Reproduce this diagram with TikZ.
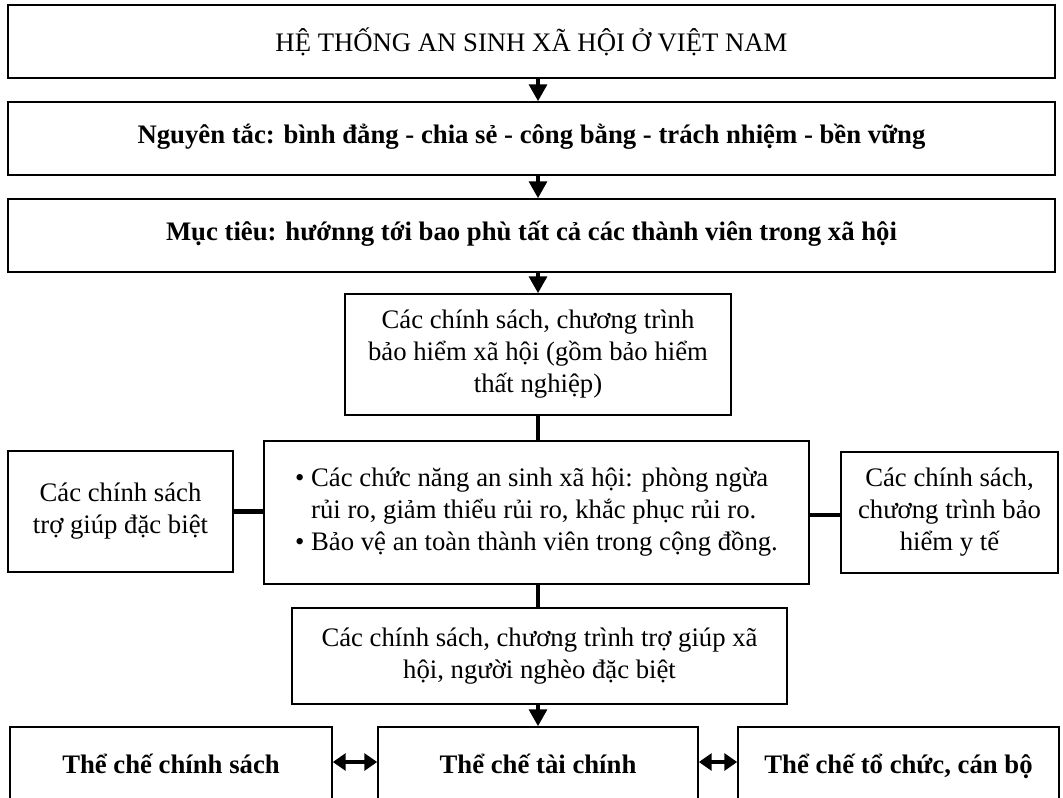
\documentclass[tikz,border=0pt]{standalone}
\usepackage{fontspec}
\setmainfont{Liberation Serif}
\usetikzlibrary{arrows.meta}
\tikzset{
  box/.style={draw, line width=1.1pt, align=center, inner sep=0pt},
  boldbox/.style={box, font=\fontsize{19}{22.8}\selectfont\bfseries, text height=2.2ex, text depth=0.6ex},
  arr/.style={line width=2.8pt, -{Triangle[width=0.44cm,length=0.42cm]}},
  darr/.style={line width=2.8pt, {Triangle[width=0.42cm,length=0.32cm]}-{Triangle[width=0.42cm,length=0.32cm]}},
  link/.style={line width=3pt}
}
\begin{document}
\begin{tikzpicture}[x=0.025cm, y=-0.025cm, font=\fontsize{19}{22.8}\selectfont]
        \useasboundingbox (0,0) rectangle (1063,797);

        % Draw top boxes
        \node[box, minimum width=26.175cm, minimum height=1.825cm] (sys) at (531.5,41.5) {HỆ THỐNG AN SINH XÃ HỘI Ở VIỆT NAM};
        \node[boldbox, minimum width=26.175cm, minimum height=1.825cm] (nt) at (531.5,138.5) {Nguyên tắc: bình đẳng - chia sẻ - công bằng - trách nhiệm - bền vững};
        \node[boldbox, minimum width=26.175cm, minimum height=1.825cm] (mt) at (531.5,235.5) {Mục tiêu: hướnng tới bao phù tất cả các thành viên trong xã hội};

        % Draw middle boxes
        \node[box, minimum width=9.65cm, minimum height=3.025cm] (bhxh) at (538,354.5) {Các chính sách, chương trình\\bảo hiểm xã hội (gồm bảo hiểm\\thất nghiệp)};
        \node[box, minimum width=13.625cm, minimum height=3.575cm, align=left] (cn) at (536.5,512.5)
            {\textbullet~Các chức năng an sinh xã hội: phòng ngừa\\\phantom{\textbullet~}rủi ro, giảm thiểu rủi ro, khắc phục rủi ro.\\\textbullet~Bảo vệ an toàn thành viên trong cộng đồng.};
        \node[box, minimum width=5.625cm, minimum height=3.025cm] (tgdb) at (120.5,511.5) {Các chính sách\\trợ giúp đặc biệt};
        \node[box, minimum width=5.425cm, minimum height=3.025cm] (bhyt) at (949.5,512.5) {Các chính sách,\\chương trình bảo\\hiểm y tế};
        \node[box, minimum width=12.375cm, minimum height=2.4cm] (tgxh) at (539.5,656) {Các chính sách, chương trình trợ giúp xã\\hội, người nghèo đặc biệt};

        % Draw bottom row
        \node[boldbox, minimum width=8.05cm, minimum height=2.05cm] (tccs) at (171,768) {Thể chế chính sách};
        \node[boldbox, minimum width=8cm, minimum height=2.05cm] (tctc) at (538,768) {Thể chế tài chính};
        \node[boldbox, minimum width=8.025cm, minimum height=2.05cm] (tctcb) at (898.5,768) {Thể chế tổ chức, cán bộ};

        % Draw arrows
        \draw[arr] (sys.south -| bhxh.north) -- (nt.north -| bhxh.north);
        \draw[arr] (nt.south -| bhxh.north) -- (mt.north -| bhxh.north);
        \draw[arr] (mt.south -| bhxh.north) -- (bhxh.north);
        \draw[arr] (tgxh.south -| tctc.north) -- (tctc.north);

        % Draw links
        \draw[link] (bhxh.south) -- (bhxh.south |- cn.north);
        \draw[link] (cn.south -| tctc.north) -- (tgxh.north -| tctc.north);
        \draw[link] (tgdb.east) -- (tgdb.east -| cn.west);
        \draw[link] ([yshift=-0.07cm]cn.east) -- ([yshift=-0.07cm]cn.east -| bhyt.west);
        \draw[darr] ([yshift=0.15cm]tccs.east) -- ([yshift=0.15cm]tctc.west);
        \draw[darr] ([yshift=0.15cm]tctc.east) -- ([yshift=0.15cm]tctcb.west);
    \end{tikzpicture}
\end{document}
